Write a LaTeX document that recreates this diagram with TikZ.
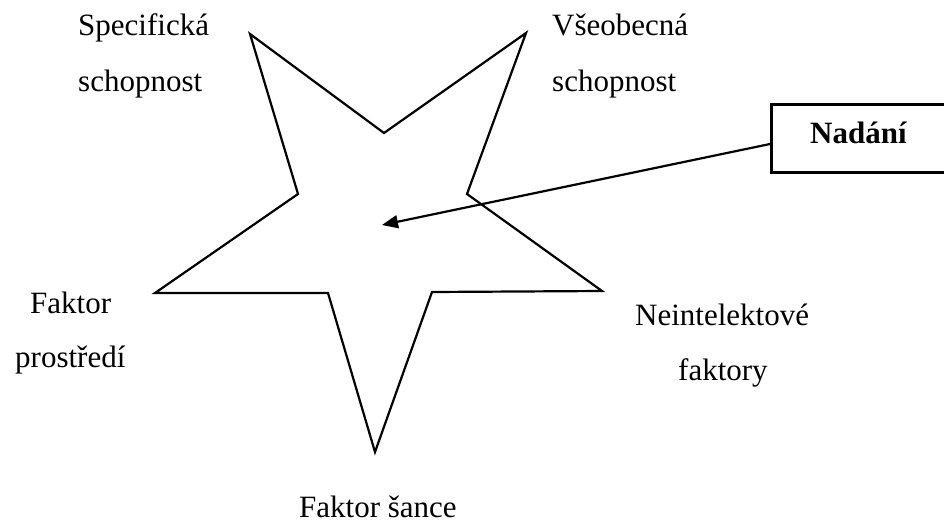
\documentclass[tikz,border=0pt]{standalone}
\usepackage{fontspec}
\setmainfont{Liberation Serif}
\usetikzlibrary{arrows.meta}
\begin{document}
\begin{tikzpicture}[x=1pt,y=-1pt,
  lbl/.style={anchor=base west,inner sep=0pt,font=\fontsize{31}{36}\selectfont},
  starline/.style={line width=2.2pt,line join=miter},
  boxst/.style={draw,line width=2.6pt,minimum width=180pt,minimum height=68pt,anchor=north west,inner sep=0pt},
  arr/.style={line width=2.2pt,-{Triangle[length=16pt,width=13pt]}}]
\useasboundingbox (0,0) rectangle (944,522);
% star vertices
\coordinate (tl) at (250,34);
\coordinate (it) at (384,133);
\coordinate (tr) at (526,33);
\coordinate (ir) at (467,194);
\coordinate (r) at (602,291);
\coordinate (ibr) at (432,292);
\coordinate (b) at (375,452);
\coordinate (ibl) at (328,293);
\coordinate (l) at (155,293);
\coordinate (il) at (298,194);
\draw[starline] (tl) -- (it) -- (tr) -- (ir) -- (r) -- (ibr) -- (b) -- (ibl) -- (l) -- (il) -- cycle;
\coordinate (center) at (382,225);
% box
\begin{scope}
\clip (0,0) rectangle (944,522);
\node[boxst] (nadani) at (770,103) {};
\end{scope}
\node[lbl,font=\fontsize{31}{36}\selectfont\bfseries] (nadanitext) at (810,143) {Nadání};
\coordinate (start) at (770,144);
\draw[arr] (start) -- (center);
% labels
\node[lbl] (s1) at (78,35) {Specifická};
\node[lbl] (s2) at (78,91) {schopnost};
\node[lbl] (v1) at (552,35) {Všeobecná};
\node[lbl] (v2) at (552,91) {schopnost};
\node[lbl] (f1) at (30,313) {Faktor};
\node[lbl] (f2) at (15,367) {prostředí};
\node[lbl] (n1) at (635,325) {Neintelektové};
\node[lbl] (n2) at (678,380) {faktory};
\node[lbl] (fs) at (299,517) {Faktor šance};
\end{tikzpicture}
\end{document}
